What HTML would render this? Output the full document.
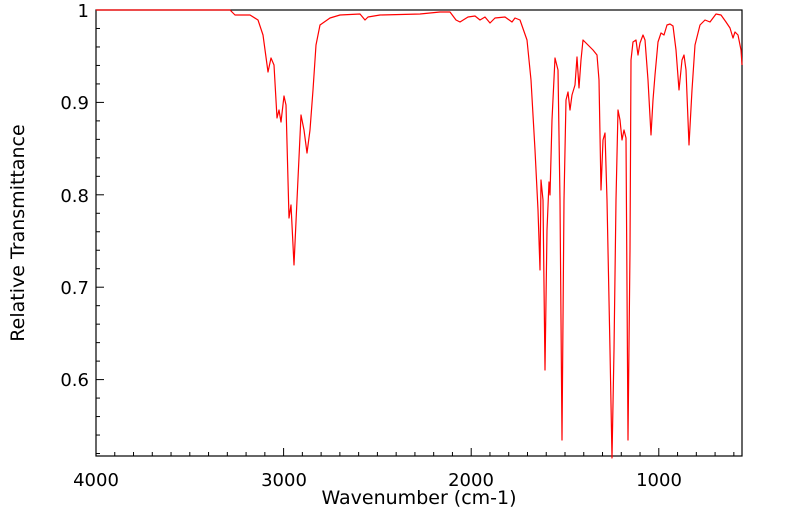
<!DOCTYPE html>
<html><head><style>body{margin:0;background:#fff}svg{display:block}text{font-family:"DejaVu Sans","Liberation Sans",sans-serif;fill:#000}</style></head>
<body>
<svg width="799" height="516" viewBox="0 0 799 516" xmlns="http://www.w3.org/2000/svg">
<rect x="96" y="10" width="646" height="446" fill="none" stroke="#000" stroke-width="1.2"/>
<g stroke="#000" stroke-width="1" id="ticks"></g>
<g font-size="18" text-anchor="end">
<text x="89" y="17">1</text>
<text x="89" y="109">0.9</text>
<text x="89" y="202">0.8</text>
<text x="89" y="294">0.7</text>
<text x="89" y="386">0.6</text>
</g>
<g font-size="18" text-anchor="middle">
<text x="96" y="486">4000</text>
<text x="284" y="486">3000</text>
<text x="471" y="486">2000</text>
<text x="659" y="486">1000</text>
</g>
<g font-size="19" text-anchor="middle">
<text x="419" y="504">Wavenumber (cm-1)</text>
<text transform="translate(24,233) rotate(-90)">Relative Transmittance</text>
</g>
<polyline fill="none" stroke="#f00" stroke-width="1.2" stroke-linejoin="round" points="96,10 230,10 235,15 250,15 258,20 263,35 268,72 271,58 274,65 277,118 279,110 281,122 284,96 286,105 289,218 291,205 294,265 297,200 301,115 304,130 307,153 310,130 313,90 316,45 320,25 330,18 340,15 360,14 365,20 368,17 380,15 420,14 440,12 450,12 456,20 460,22 468,17 475,16 480,20 485,17 490,23 495,18 505,17 512,22 515,18 520,20 527,40 531,80 535,150 538,210 540,270 541,180 543,200 545,370 547,230 549,182 550,195 552,120 555,58 558,70 560,200 562,440 564,200 566,100 568,92 570,110 572,95 575,85 577,57 579,88 581,60 583,40 588,45 593,50 597,55 599,80 601,190 603,140 605,133 607,200 610,350 612,458 614,350 616,200 618,110 620,120 622,140 624,130 626,138 628,440 630,250 631,60 633,42 636,40 638,55 640,43 643,35 645,40 648,80 651,135 653,100 655,75 658,42 661,33 664,35 667,25 670,24 673,26 676,50 679,90 682,60 684,55 686,70 689,145 692,90 695,45 700,25 705,20 710,22 713,18 716,14 721,15 726,22 730,28 733,38 735,32 738,35 741,50 742,65"/>
</svg>
<script>
var g=document.getElementById('ticks'),s='';
for(var i=0;i<=34;i++){var x=96+i*18.76;if(x>742)break;var L=(i%10==0)?8:4;s+='<line x1="'+x+'" y1="456" x2="'+x+'" y2="'+(456-L)+'"/>';}
for(var j=0;j<=24;j++){var y=10+j*18.48;if(y>456)break;var L=(j%5==0)?8:4;s+='<line x1="96" y1="'+y+'" x2="'+(96+L)+'" y2="'+y+'"/>';}
g.innerHTML=s;
</script>
</body></html>
